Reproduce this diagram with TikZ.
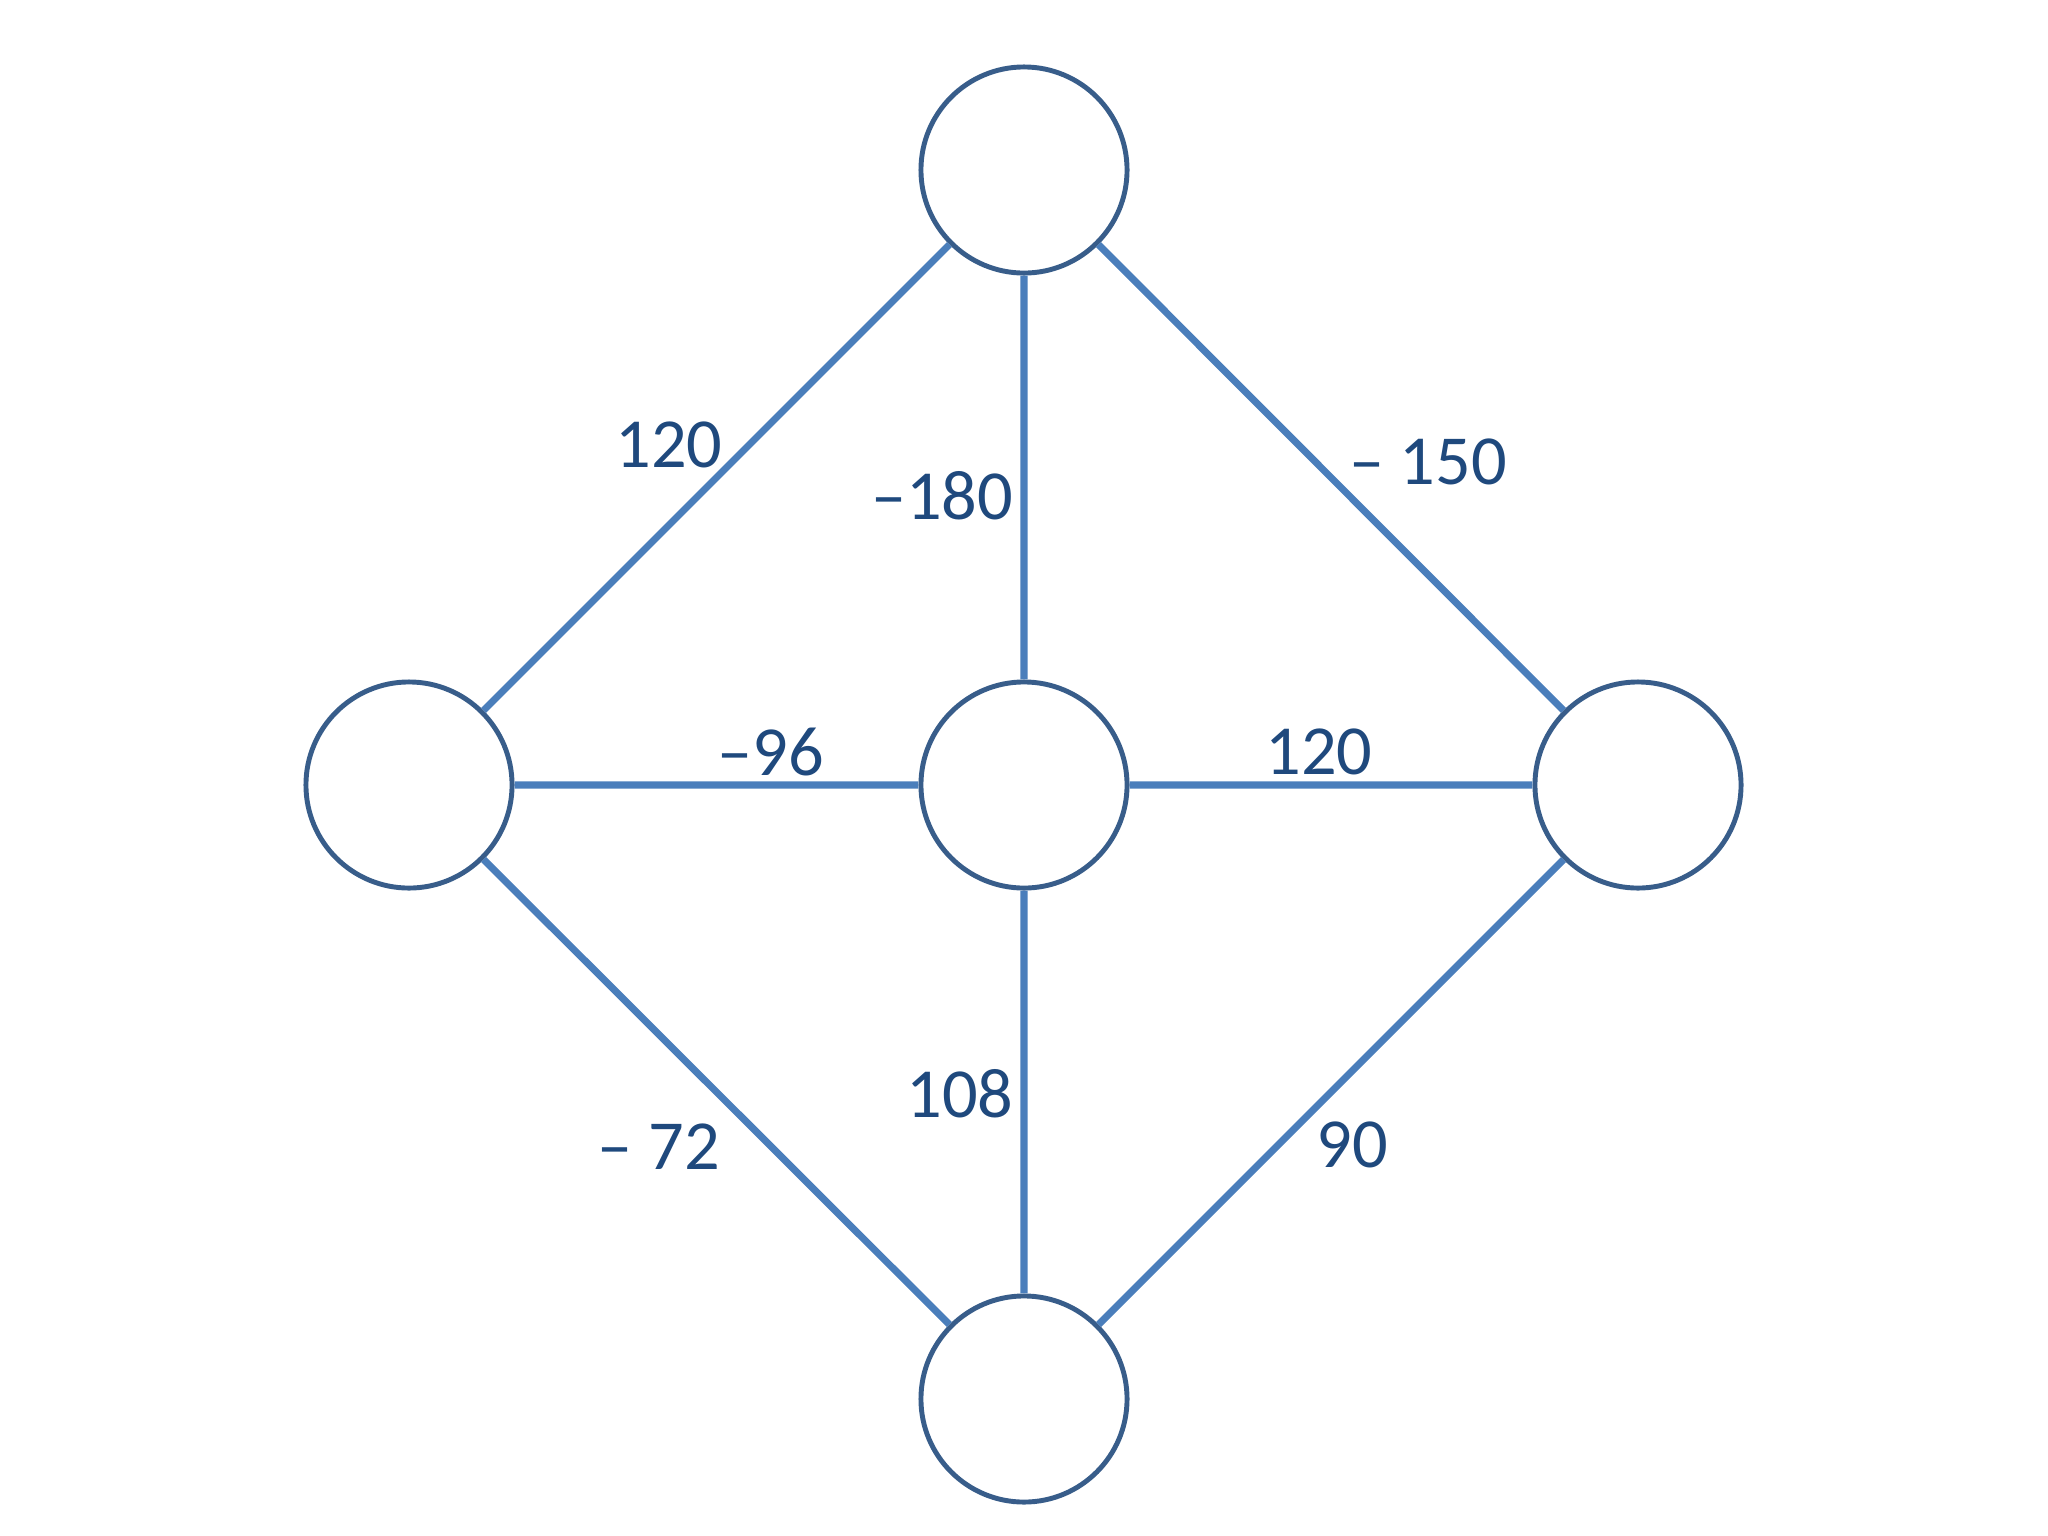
\documentclass[tikz,border=0pt]{standalone}
\usepackage{fontspec}
\setmainfont{Carlito}
\definecolor{edgeblue}{HTML}{4A7EBB}
\definecolor{ringblue}{HTML}{385D8A}
\definecolor{textblue}{HTML}{1F497D}
\begin{document}
\begin{tikzpicture}
        [x=0.01cm,y=-0.01cm,
         vertex/.style={circle,draw=ringblue,line width=1.4pt,fill=white,minimum size=2.06cm,inner sep=0pt},
         weight/.style={text=textblue,font=\fontsize{20}{24}\selectfont,inner sep=0pt}]
        \useasboundingbox (0,0) rectangle (2048,1536);
        % vertices
        \node[vertex]  (T) at (1024,170)  {};
        \node[vertex]  (L) at (409,785)   {};
        \node[vertex]  (C) at (1024,785)  {};
        \node[vertex]  (R) at (1638,785)  {};
        \node[vertex]  (B) at (1024,1399) {};

        \draw[edgeblue, line width=2pt]
        (T) -- (L)  (T) -- (C)  (T) -- (R)
        (L) -- (C)  (C) -- (R)
        (L) -- (B)  (C) -- (B)  (R) -- (B);

        % weights
        \node[weight] (wTL) at (669,445)  {120};
        \node[weight] (wTC) at (942,496)  {–180};
        \node[weight] (wTR) at (1428,462) {– 150};
        \node[weight] (wLC) at (771,752)  {–96};
        \node[weight] (wCR) at (1319,752) {120};
        \node[weight] (wCB) at (960,1094) {108};
        \node[weight] (wLB) at (659,1147) {– 72};
        \node[weight] (wRB) at (1352,1145) {90};
\end{tikzpicture}
\end{document}
